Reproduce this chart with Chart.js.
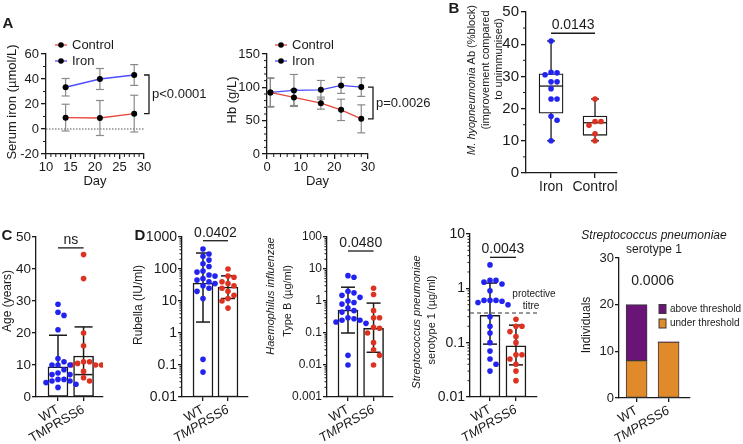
<!DOCTYPE html>
<html>
<head>
<meta charset="utf-8">
<script src="https://cdn.jsdelivr.net/npm/chart.js@4.4.1/dist/chart.umd.min.js"></script>
<style>
  html, body { margin: 0; padding: 0; background: #fff; }
  #fig { position: relative; width: 743px; height: 444px; overflow: hidden; }
  #fig canvas { position: absolute; }
</style>
</head>
<body>
<div id="fig"></div>
<script>
// ---- A: serum iron (mean, SD) ----
const feDays = [14, 21, 28];
const feCtrl = [9.1, 8.8, 12.3];
const feCtrlSd = [10.7, 14.0, 14.7];
const feIron = [33.4, 40.0, 43.2];
const feIronSd = [7.0, 8.4, 8.3];
const feTicksX = [10, 15, 20, 25, 30];
const feTicksY = [-20, 0, 20, 40, 60];

// ---- A: haemoglobin ----
const hbDays = [1, 8, 16, 22, 28];
const hbCtrl = [92.3, 84.8, 76.3, 66.2, 52.7];
const hbCtrlSd = [21, 12, 9, 16, 21];
const hbIron = [92.3, 95.3, 96.3, 102.9, 100.4];
const hbIronSd = [22, 24, 14, 12, 14];
const hbTicksX = [0, 10, 20, 30];
const hbTicksY = [0, 50, 100, 150];

// ---- B: M. hyopneumonia antibody ----
const mhGroups = ['Iron', 'Control'];
const mhIron = [41, 31.3, 31.1, 30.5, 28.3, 28.3, 26.2, 23, 23, 17.6, 16.4, 10];
const mhCtrl = [23, 16, 16, 14.8, 12.2, 10];
const mhBoxIron = [10, 18.6, 27, 30.8, 41];   // min, q1, median, q3, max
const mhBoxCtrl = [10, 11.7, 15.6, 17.7, 23];
const mhTicksY = [0, 10, 20, 30, 40, 50];

// ---- C / D: WT vs TMPRSS6 ----
const groups = ['WT', 'TMPRSS6'];

const ageWt = [29, 26.5, 25.5, 21, 12, 11, 10, 10, 10, 8.5, 7.5, 7, 7, 5.5, 5.5, 5, 5, 4.5, 4, 3];
const ageTm = [44.5, 37, 20, 16, 11, 11, 10.5, 10, 10, 10, 8, 6, 5];
const ageMean = [9.4, 12.8];
const ageLo = [null, 7.0];
const ageHi = [19.3, 21.9];
const ageTicks = [0, 10, 20, 30, 40, 50];

const rubWt = [420, 295, 250, 190, 145, 120, 87, 80, 65, 60, 50, 45, 40, 35, 30, 25, 20, 12, 0.15, 0.06];
const rubTm = [100, 60, 55, 40, 35, 30, 25, 20, 15, 12, 10, 6];
const rubMean = [36, 27];
const rubLo = [2.2, 12];
const rubHi = [316, 61];
const rubTicks = [0.01, 0.1, 1, 10, 100, 1000];

const hibWt = [6.2, 5.5, 2.0, 1.8, 1.5, 1.3, 1.0, 0.9, 0.8, 0.6, 0.5, 0.45, 0.3, 0.28, 0.25, 0.25, 0.22, 0.2, 0.02, 0.01];
const hibTm = [2.5, 1.6, 0.5, 0.3, 0.3, 0.15, 0.14, 0.1, 0.05, 0.03, 0.02, 0.01];
const hibMean = [0.52, 0.14];
const hibLo = [0.1, 0.025];
const hibHi = [2.7, 0.86];
const hibTicks = [0.001, 0.01, 0.1, 1, 10, 100];

const spnWt = [2.7, 1.4, 1.4, 1.3, 1.2, 0.9, 0.6, 0.6, 0.6, 0.58, 0.55, 0.5, 0.3, 0.2, 0.15, 0.1, 0.07, 0.05, 0.04, 0.03];
const spnTm = [0.27, 0.2, 0.2, 0.16, 0.13, 0.1, 0.06, 0.06, 0.05, 0.04, 0.03, 0.02];
const spnMean = [0.32, 0.087];
const spnLo = [0.094, 0.039];
const spnHi = [1.25, 0.21];
const spnThreshold = 0.35;
const spnTicks = [0.01, 0.1, 1, 10];

const indUnder = [8, 12];
const indAbove = [12, 0];
const indTicks = [0, 10, 20, 30];

// ---- look ----
const INK = '#1a1a1a';
const BLUE = '#2323f0';
const RED = '#dc3222';
const LINE_RED = '#e8473d';
const LINE_BLUE = '#4d4dff';
const PURPLE = '#6b1478';
const ORANGE = '#e08a2a';
const FONT = "'Liberation Sans', Arial, sans-serif";

Chart.defaults.font.family = FONT;
Chart.defaults.color = INK;
Chart.defaults.animation = false;
Chart.defaults.events = [];
Chart.defaults.plugins.legend.display = false;
Chart.defaults.plugins.tooltip.enabled = false;

function makeCanvas(box) {
    const c = document.createElement('canvas');
    c.width = box.w;
    c.height = box.h;
    c.style.left = box.l + 'px';
    c.style.top = box.t + 'px';
    document.getElementById('fig').appendChild(c);
    return c;
}

// layout padding + axis sizes so the plot area lands on the wanted pixels
function frame(box, area) {
    return {
        padding: { left: 0, top: area.y0 - box.t, right: box.l + box.w - area.x1, bottom: 0 },
        yWidth: area.x0 - box.l,
        xHeight: box.t + box.h - area.y1
    };
}

function axis(o) {
    return {
        type: o.type || 'linear',
        min: o.min,
        max: o.max,
        offset: false,
        stacked: !!o.stacked,
        afterFit: s => { if (s.isHorizontal()) s.height = o.fit; else s.width = o.fit; },
        afterBuildTicks: s => { s.ticks = o.at.map(v => ({ value: v })); },
        border: { display: true, color: INK, width: 1.3 },
        grid: { offset: false, drawOnChartArea: false, drawTicks: true, tickLength: o.tick || 5, color: INK, lineWidth: 1.3 },
        title: o.title ? { display: true, text: o.title, color: INK, font: { size: 13 }, padding: o.titlePad } : { display: false },
        ticks: {
            autoSkip: false,
            minRotation: o.rot || 0,
            maxRotation: o.rot || 0,
            padding: o.pad == null ? 2 : o.pad,
            color: INK,
            font: o.font || { size: 13 },
            callback: (v, i) => o.labels ? o.labels[i] : String(v)
        }
    };
}

function line(ctx, x0, y0, x1, y1) {
    ctx.beginPath();
    ctx.moveTo(x0, y0);
    ctx.lineTo(x1, y1);
    ctx.stroke();
}

function txt(ctx, s, x, y, size, opt = {}) {
    ctx.font = `${opt.italic ? 'italic ' : ''}${opt.bold ? 'bold ' : ''}${size}px ${FONT}`;
    ctx.fillStyle = opt.color || INK;
    ctx.textAlign = opt.align || 'center';
    ctx.textBaseline = opt.base || 'middle';
    ctx.fillText(s, x, y);
}

// rotated axis title, segments are [text, italic]
function rotText(ctx, segs, x, yc, size) {
    ctx.save();
    ctx.translate(x, yc);
    ctx.rotate(-Math.PI / 2);
    ctx.fillStyle = INK;
    ctx.textBaseline = 'middle';
    ctx.textAlign = 'left';
    const fonts = segs.map(s => `${s[1] ? 'italic ' : ''}${size}px ${FONT}`);
    const widths = segs.map((s, i) => { ctx.font = fonts[i]; return ctx.measureText(s[0]).width; });
    let cur = -widths.reduce((a, b) => a + b, 0) / 2;
    segs.forEach((s, i) => { ctx.font = fonts[i]; ctx.fillText(s[0], cur, 0); cur += widths[i]; });
    ctx.restore();
}

function minorTicks(chart, ctx, id, values, len) {
    const s = chart.scales[id], a = chart.chartArea;
    ctx.strokeStyle = INK;
    ctx.lineWidth = 1;
    values.forEach(v => {
        const p = s.getPixelForValue(v);
        if (s.isHorizontal()) line(ctx, p, a.bottom, p, a.bottom + len);
        else line(ctx, a.left - len, p, a.left, p);
    });
}

function steps(a, b, st, skip) {
    const out = [];
    for (let v = a; v <= b + 1e-9; v += st) if (Math.abs(v / skip - Math.round(v / skip)) > 1e-6) out.push(v);
    return out;
}

function logMinor(min, max) {
    const out = [];
    for (let d = min; d < max; d *= 10) for (let k = 2; k <= 9; k++) out.push(+(k * d).toPrecision(3));
    return out;
}

function errorBars(chart, ctx, xs, mean, lo, hi, cap, color, width) {
    const sx = chart.scales.x, sy = chart.scales.y;
    ctx.strokeStyle = color;
    ctx.lineWidth = width;
    xs.forEach((xv, i) => {
        const px = sx.getPixelForValue(xv);
        const a = sy.getPixelForValue(hi[i]);
        const b = sy.getPixelForValue(lo[i] == null ? mean[i] : lo[i]);
        line(ctx, px, a, px, b);
        line(ctx, px - cap, a, px + cap, a);
        if (lo[i] != null) line(ctx, px - cap, b, px + cap, b);
    });
}

function hBracket(chart, ctx, yv, text, size) {
    const sx = chart.scales.x, sy = chart.scales.y;
    const y = sy.getPixelForValue(yv);
    const a = sx.getPixelForValue(0), b = sx.getPixelForValue(1);
    ctx.strokeStyle = INK;
    ctx.lineWidth = 1.3;
    line(ctx, a, y, b, y);
    txt(ctx, text, (a + b) / 2, y - 4, size, { base: 'alphabetic' });
}

function vBracket(chart, ctx, ya, yb, text) {
    const sy = chart.scales.y, r = chart.chartArea.right;
    const a = sy.getPixelForValue(ya), b = sy.getPixelForValue(yb);
    const x = r + 5;
    ctx.strokeStyle = INK;
    ctx.lineWidth = 1.3;
    ctx.beginPath();
    ctx.moveTo(r, a); ctx.lineTo(x, a); ctx.lineTo(x, b); ctx.lineTo(r, b);
    ctx.stroke();
    txt(ctx, text, x + 3, (a + b) / 2, 13, { align: 'left' });
}

// spread dots sideways (pixels) so they do not overlap
function swarm(vals, yPix, step) {
    const placed = [], out = new Array(vals.length);
    const idx = vals.map((v, i) => i).sort((a, b) => vals[b] - vals[a]);
    idx.forEach(i => {
        const py = yPix(vals[i]);
        for (let k = 0; k < 60; k++) {
            const off = (k % 2 ? 1 : -1) * Math.ceil(k / 2) * step;
            if (placed.every(p => (p.x - off) ** 2 + (p.y - py) ** 2 >= step * step)) {
                placed.push({ x: off, y: py });
                out[i] = off;
                break;
            }
        }
    });
    return out;
}

function deco(box, h) {
    return {
        id: 'deco',
        beforeDatasetsDraw(chart) {
            if (!h.under) return;
            chart.ctx.save(); h.under(chart, chart.ctx); chart.ctx.restore();
        },
        afterDatasetDraw(chart, args) {
            if (!h.afterSet) return;
            chart.ctx.save(); h.afterSet(chart, chart.ctx, args.index); chart.ctx.restore();
        },
        afterDraw(chart) {
            const ctx = chart.ctx;
            if (h.over) { ctx.save(); h.over(chart, ctx); ctx.restore(); }
            if (h.fixed) { ctx.save(); ctx.translate(-box.l, -box.t); h.fixed(ctx, chart); ctx.restore(); }
        }
    };
}

const pts = (xs, ys) => xs.map((x, i) => ({ x, y: ys[i] }));

function legendRows(ctx, chart, x, y0, dy) {
    chart.data.datasets.forEach((ds, i) => {
        const y = y0 + i * dy;
        ctx.strokeStyle = ds.borderColor;
        ctx.lineWidth = 1.3;
        line(ctx, x, y, x + 12, y);
        ctx.fillStyle = '#000';
        ctx.beginPath(); ctx.arc(x + 6, y, 2.8, 0, Math.PI * 2); ctx.fill();
        txt(ctx, ds.label, x + 17, y, 13, { align: 'left' });
    });
}

function lineSet(label, xs, ys, color) {
    return {
        label, data: pts(xs, ys), borderColor: color, borderWidth: 1.3,
        pointRadius: 3, pointBackgroundColor: '#000', pointBorderWidth: 0
    };
}

// ---------- A1 serum iron ----------
(function () {
    const box = { l: 0, t: 0, w: 220, h: 200 }, area = { x0: 46, x1: 144, y0: 54, y1: 154 };
    const f = frame(box, area);
    new Chart(makeCanvas(box), {
        type: 'line',
        data: { datasets: [lineSet('Control', feDays, feCtrl, LINE_RED), lineSet('Iron', feDays, feIron, LINE_BLUE)] },
        options: {
            responsive: false,
            layout: { padding: f.padding },
            scales: {
                x: axis({ min: 10, max: 30, at: feTicksX, fit: f.xHeight, title: 'Day', titlePad: { top: 0, bottom: 10.5 }, pad: 1 }),
                y: axis({ min: -20, max: 60, at: feTicksY, fit: f.yWidth })
            }
        },
        plugins: [deco(box, {
            under(chart, ctx) {
                const a = chart.chartArea, y0 = chart.scales.y.getPixelForValue(0);
                ctx.strokeStyle = '#555'; ctx.lineWidth = 1; ctx.setLineDash([1.5, 1.5]);
                line(ctx, a.left, y0, a.right, y0);
                ctx.setLineDash([]);
                errorBars(chart, ctx, feDays, feCtrl, feCtrl.map((m, i) => m - feCtrlSd[i]), feCtrl.map((m, i) => m + feCtrlSd[i]), 4, '#8a8a8a', 1.2);
                errorBars(chart, ctx, feDays, feIron, feIron.map((m, i) => m - feIronSd[i]), feIron.map((m, i) => m + feIronSd[i]), 4, '#8a8a8a', 1.2);
            },
            over(chart, ctx) {
                minorTicks(chart, ctx, 'x', steps(10, 30, 1, 5), 3);
                minorTicks(chart, ctx, 'y', steps(-20, 60, 10, 20), 3);
                vBracket(chart, ctx, feIron[2], feCtrl[2], 'p<0.0001');
            },
            fixed(ctx, chart) {
                txt(ctx, 'A', 8, 24, 15, { bold: true });
                rotText(ctx, [['Serum iron (µmol/L)', false]], 12, 102, 13);
                legendRows(ctx, chart, 55, 45, 16);
            }
        })]
    });
})();

// ---------- A2 haemoglobin ----------
(function () {
    const box = { l: 215, t: 0, w: 225, h: 200 }, area = { x0: 267, x1: 368, y0: 54, y1: 154 };
    const f = frame(box, area);
    new Chart(makeCanvas(box), {
        type: 'line',
        data: { datasets: [lineSet('Control', hbDays, hbCtrl, LINE_RED), lineSet('Iron', hbDays, hbIron, LINE_BLUE)] },
        options: {
            responsive: false,
            layout: { padding: f.padding },
            scales: {
                x: axis({ min: 0, max: 30, at: hbTicksX, fit: f.xHeight, title: 'Day', titlePad: { top: 0, bottom: 10.5 }, pad: 1 }),
                y: axis({ min: 0, max: 150, at: hbTicksY, fit: f.yWidth })
            }
        },
        plugins: [deco(box, {
            under(chart, ctx) {
                errorBars(chart, ctx, hbDays, hbCtrl, hbCtrl.map((m, i) => m - hbCtrlSd[i]), hbCtrl.map((m, i) => m + hbCtrlSd[i]), 4, '#8a8a8a', 1.2);
                errorBars(chart, ctx, hbDays, hbIron, hbIron.map((m, i) => m - hbIronSd[i]), hbIron.map((m, i) => m + hbIronSd[i]), 4, '#8a8a8a', 1.2);
            },
            over(chart, ctx) {
                minorTicks(chart, ctx, 'x', steps(0, 30, 2, 10), 3);
                minorTicks(chart, ctx, 'y', steps(0, 150, 10, 50), 3);
                vBracket(chart, ctx, hbIron[4], hbCtrl[4], 'p=0.0026');
            },
            fixed(ctx, chart) {
                rotText(ctx, [['Hb (g/L)', false]], 232, 100, 13);
                legendRows(ctx, chart, 275, 45, 16);
            }
        })]
    });
})();

// ---------- B box plot ----------
(function () {
    const box = { l: 440, t: 0, w: 200, h: 215 }, area = { x0: 526, x1: 617, y0: 12, y1: 173 };
    const f = frame(box, area);
    const xMin = -0.57, xMax = 1.5;
    const ppu = (area.x1 - area.x0) / (xMax - xMin);
    const yPix = v => v / 50 * (area.y1 - area.y0);
    const dots = (vals, g) => swarm(vals, yPix, 6).map((d, i) => ({ x: g + d / ppu, y: vals[i] }));
    const boxes = [mhBoxIron, mhBoxCtrl];
    new Chart(makeCanvas(box), {
        type: 'scatter',
        data: { datasets: [
            { data: dots(mhIron, 0), backgroundColor: BLUE, pointRadius: 2.8, borderWidth: 0, order: 0 },
            { data: dots(mhCtrl, 1), backgroundColor: RED, pointRadius: 2.8, borderWidth: 0, order: 0 },
            { type: 'bar', data: boxes.map((b, i) => ({ x: i, y: [b[1], b[3]] })), backgroundColor: '#fff', borderColor: INK, borderWidth: 1.3, borderSkipped: false, barThickness: 24, order: 1 }
        ] },
        options: {
            responsive: false,
            layout: { padding: f.padding },
            scales: {
                x: axis({ min: xMin, max: xMax, at: [0, 1], labels: mhGroups, fit: f.xHeight, font: { size: 14 }, pad: 1 }),
                y: axis({ min: 0, max: 50, at: mhTicksY, fit: f.yWidth, font: { size: 15 } })
            }
        },
        plugins: [deco(box, {
            afterSet(chart, ctx, i) {
                if (i !== 2) return;
                const sx = chart.scales.x, sy = chart.scales.y;
                ctx.strokeStyle = INK; ctx.lineWidth = 1.3;
                boxes.forEach((b, g) => {
                    const cx = sx.getPixelForValue(g);
                    line(ctx, cx - 12, sy.getPixelForValue(b[2]), cx + 12, sy.getPixelForValue(b[2]));
                    line(ctx, cx, sy.getPixelForValue(b[3]), cx, sy.getPixelForValue(b[4]));
                    line(ctx, cx, sy.getPixelForValue(b[1]), cx, sy.getPixelForValue(b[0]));
                    line(ctx, cx - 4, sy.getPixelForValue(b[4]), cx + 4, sy.getPixelForValue(b[4]));
                    line(ctx, cx - 4, sy.getPixelForValue(b[0]), cx + 4, sy.getPixelForValue(b[0]));
                });
            },
            over(chart, ctx) {
                minorTicks(chart, ctx, 'y', steps(0, 50, 5, 10), 3);
                hBracket(chart, ctx, 43.4, '0.0143', 14);
            },
            fixed(ctx) {
                txt(ctx, 'B', 454, 9, 15, { bold: true });
                rotText(ctx, [['M. hyopneumonia', true], [' Ab (%block)', false]], 472, 80, 11);
                rotText(ctx, [['(improvement compared', false]], 486, 70, 11);
                rotText(ctx, [['to unimmunised)', false]], 499, 59, 11);
            }
        })]
    });
})();

// ---------- C / D dot + bar panels ----------
function dotBars(o) {
    const f = frame(o.box, o.area);
    const W = o.area.x1 - o.area.x0, H = o.area.y1 - o.area.y0;
    const ppu = W / (o.xMax - o.xMin);
    const L = Math.log10;
    const yPix = o.log ? v => (L(v) - L(o.yMin)) / (L(o.yMax) - L(o.yMin)) * H
                       : v => (v - o.yMin) / (o.yMax - o.yMin) * H;
    const dots = (vals, g) => swarm(vals, yPix, 6).map((d, i) => ({ x: g + d / ppu, y: vals[i] }));
    new Chart(makeCanvas(o.box), {
        type: 'scatter',
        data: { datasets: [
            { data: dots(o.wt, 0), backgroundColor: BLUE, pointRadius: 2.8, borderWidth: 0, order: 0 },
            { data: dots(o.tm, 1), backgroundColor: RED, pointRadius: 2.8, borderWidth: 0, order: 0 },
            { type: 'bar', data: o.mean.map((m, i) => ({ x: i, y: m })), backgroundColor: '#fff', borderColor: INK, borderWidth: 1.5, borderSkipped: false, barThickness: 20, order: 1 }
        ] },
        options: {
            responsive: false,
            layout: { padding: f.padding },
            scales: {
                x: axis({ min: o.xMin, max: o.xMax, at: [0, 1], labels: groups, fit: f.xHeight, rot: 30, pad: 1, tick: 4,
                          font: c => ({ size: 13, style: o.italicTm && c.index === 1 ? 'italic' : 'normal' }) }),
                y: axis({ type: o.log ? 'logarithmic' : 'linear', min: o.yMin, max: o.yMax, at: o.ticks, fit: f.yWidth, tick: 4, pad: 1, font: { size: o.tickSize } })
            }
        },
        plugins: [deco(o.box, {
            afterSet(chart, ctx, i) {
                if (i === 2) errorBars(chart, ctx, [0, 1], o.mean, o.lo, o.hi, o.cap, INK, 1.5);
            },
            over(chart, ctx) {
                if (o.log) minorTicks(chart, ctx, 'y', logMinor(o.yMin, o.yMax), 2.5);
                if (o.ref) {
                    const a = chart.chartArea, y = chart.scales.y.getPixelForValue(o.ref);
                    ctx.strokeStyle = '#777'; ctx.lineWidth = 1.5; ctx.setLineDash([4, 3]);
                    line(ctx, a.left, y, a.right, y);
                    ctx.setLineDash([]);
                }
                hBracket(chart, ctx, o.bracket, o.p, 14);
            },
            fixed(ctx) { o.fixed(ctx); }
        })]
    });
}

dotBars({
    box: { l: 0, t: 210, w: 130, h: 234 }, area: { x0: 36, x1: 103, y0: 237, y1: 397 },
    xMin: -0.86, xMax: 1.76, yMin: 0, yMax: 50, ticks: ageTicks, tickSize: 13.5,
    wt: ageWt, tm: ageTm, mean: ageMean, lo: ageLo, hi: ageHi, cap: 9,
    bracket: 46.6, p: 'ns',
    fixed(ctx) {
        txt(ctx, 'C', 7, 236, 15, { bold: true });
        rotText(ctx, [['Age (years)', false]], 8, 301, 12);
    }
});

dotBars({
    box: { l: 130, t: 210, w: 135, h: 234 }, area: { x0: 182, x1: 248, y0: 237, y1: 397 },
    xMin: -0.84, xMax: 1.8, log: true, yMin: 0.01, yMax: 1000, ticks: rubTicks, tickSize: 14, italicTm: true,
    wt: rubWt, tm: rubTm, mean: rubMean, lo: rubLo, hi: rubHi, cap: 7,
    bracket: 765, p: '0.0402',
    fixed(ctx) {
        txt(ctx, 'D', 140, 236, 15, { bold: true });
        rotText(ctx, [['Rubella (IU/ml)', false]], 139, 305, 12);
    }
});

dotBars({
    box: { l: 265, t: 210, w: 135, h: 234 }, area: { x0: 327, x1: 393, y0: 237, y1: 397 },
    xMin: -0.82, xMax: 1.76, log: true, yMin: 0.001, yMax: 100, ticks: hibTicks, tickSize: 12, italicTm: true,
    wt: hibWt, tm: hibTm, mean: hibMean, lo: hibLo, hi: hibHi, cap: 7,
    bracket: 36.5, p: '0.0480',
    fixed(ctx) {
        rotText(ctx, [['Haemophilus influenzae', true]], 271, 296, 11);
        rotText(ctx, [['Type B (µg/ml)', false]], 288, 301, 11);
    }
});

dotBars({
    box: { l: 400, t: 210, w: 160, h: 234 }, area: { x0: 470, x1: 537, y0: 234, y1: 397 },
    xMin: -0.77, xMax: 1.81, log: true, yMin: 0.01, yMax: 10, ticks: spnTicks, tickSize: 14, italicTm: true,
    wt: spnWt, tm: spnTm, mean: spnMean, lo: spnLo, hi: spnHi, cap: 7,
    bracket: 3.72, p: '0.0043', ref: spnThreshold,
    fixed(ctx) {
        rotText(ctx, [['Streptococcus pneumoniae', true]], 417, 322, 11);
        rotText(ctx, [['serotype 1 (µg/ml)', false]], 432, 320, 11);
        txt(ctx, 'protective', 534, 294, 10);
        txt(ctx, 'titre', 531, 306, 10);
    }
});

// ---------- D4 stacked counts ----------
(function () {
    const box = { l: 560, t: 210, w: 183, h: 234 }, area = { x0: 619, x1: 690, y0: 258, y1: 398 };
    const f = frame(box, area);
    const bars = (vals) => vals.map((v, i) => ({ x: i, y: v }));
    new Chart(makeCanvas(box), {
        type: 'scatter',
        data: { datasets: [
            { type: 'bar', label: 'under threshold', data: bars(indUnder), backgroundColor: ORANGE, borderColor: '#3a3a3a', borderSkipped: false,
              borderWidth: c => (c.parsed && c.parsed.y ? 1 : 0), barThickness: 21 },
            { type: 'bar', label: 'above threshold', data: bars(indAbove), backgroundColor: PURPLE, borderColor: '#3a3a3a', borderSkipped: false,
              borderWidth: c => (c.parsed && c.parsed.y ? 1 : 0), barThickness: 21 }
        ] },
        options: {
            responsive: false,
            layout: { padding: f.padding },
            scales: {
                x: axis({ min: -0.55, max: 1.67, at: [0, 1], labels: groups, fit: f.xHeight, rot: 30, pad: 1, tick: 4, stacked: true,
                          font: c => ({ size: 13, style: c.index === 1 ? 'italic' : 'normal' }) }),
                y: axis({ min: 0, max: 30, at: indTicks, fit: f.yWidth, tick: 4, pad: 1, stacked: true })
            }
        },
        plugins: [deco(box, {
            over(chart, ctx) {
                const sx = chart.scales.x, sy = chart.scales.y;
                txt(ctx, '0.0006', (sx.getPixelForValue(0) + sx.getPixelForValue(1)) / 2, sy.getPixelForValue(25), 14);
            },
            fixed(ctx, chart) {
                txt(ctx, 'Streptococcus pneumoniae', 654, 236, 12, { italic: true });
                txt(ctx, 'serotype 1', 654, 250, 12);
                rotText(ctx, [['Individuals', false]], 587, 325, 12);
                const rows = [chart.data.datasets[1], chart.data.datasets[0]];
                rows.forEach((ds, i) => {
                    const y = 309 + i * 14.5;
                    ctx.fillStyle = ds.backgroundColor;
                    ctx.fillRect(659, y - 4.5, 7, 9);
                    ctx.strokeStyle = '#3a3a3a'; ctx.lineWidth = 1;
                    ctx.strokeRect(659, y - 4.5, 7, 9);
                    txt(ctx, ds.label, 670, y, 10, { align: 'left' });
                });
            }
        })]
    });
})();
</script>
</body>
</html>
